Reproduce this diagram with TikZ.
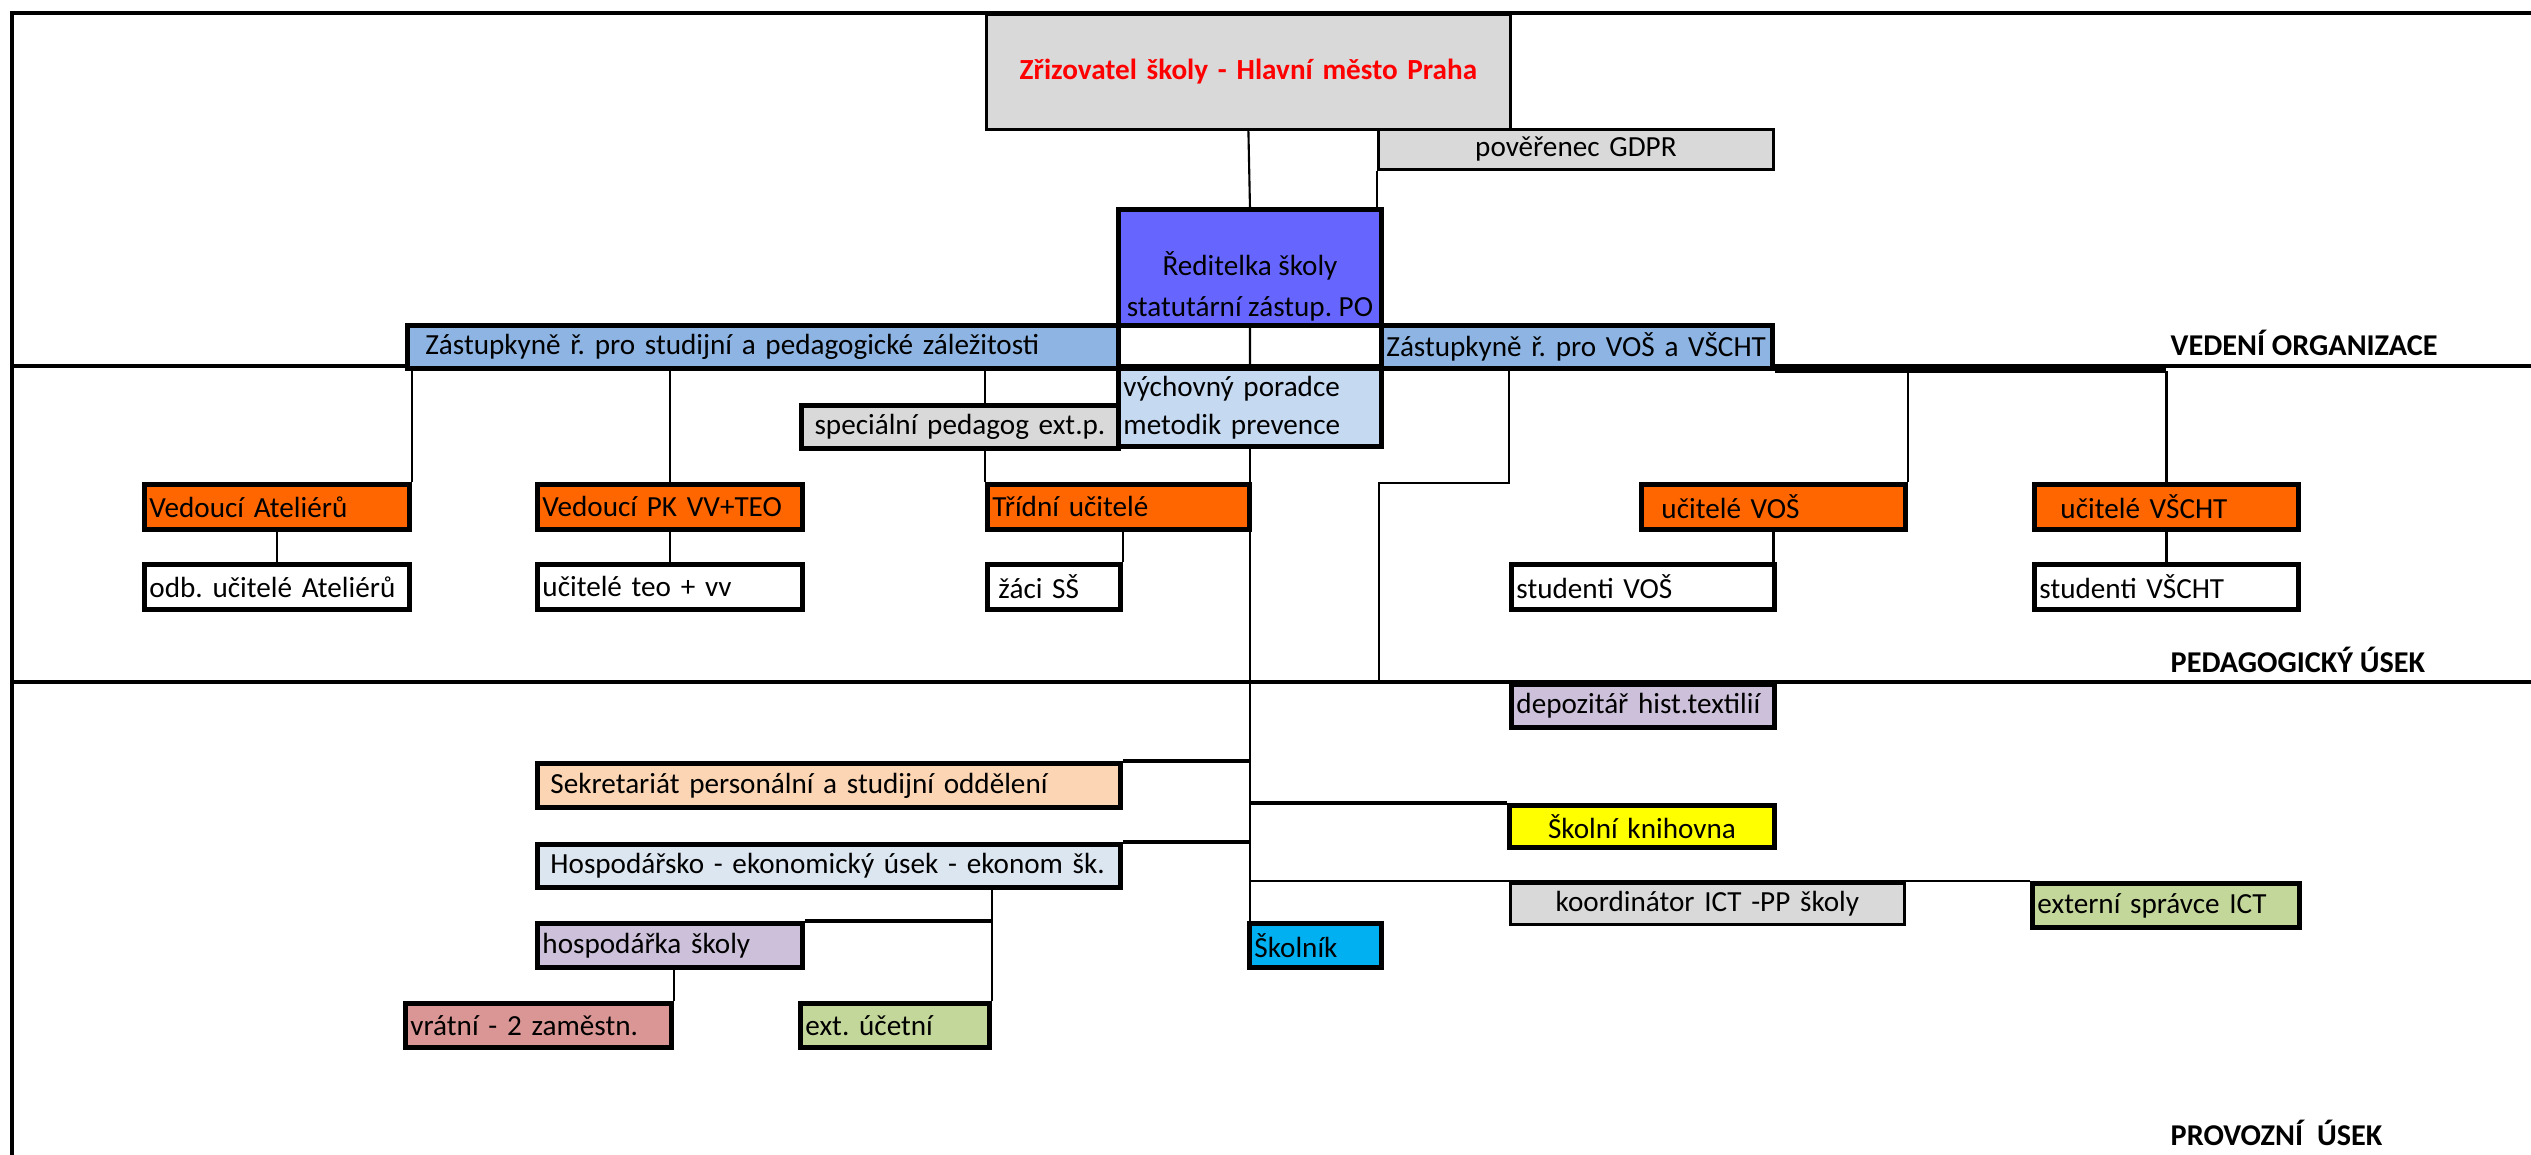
\documentclass[tikz,border=0pt]{standalone}
\usepackage{fontspec}
\setmainfont{Carlito}
\usetikzlibrary{backgrounds, positioning}
\frenchspacing
\definecolor{grayfill}{HTML}{D9D9D9}
\definecolor{director}{HTML}{6666FF}
\definecolor{deputy}{HTML}{8DB4E2}
\definecolor{advisor}{HTML}{C5D9F1}
\definecolor{leader}{HTML}{FF6600}
\definecolor{lilac}{HTML}{CCC0DA}
\definecolor{peach}{HTML}{FCD5B4}
\definecolor{econ}{HTML}{DCE6F1}
\definecolor{library}{HTML}{FFFF00}
\definecolor{extgreen}{HTML}{C4D79B}
\definecolor{rose}{HTML}{DA9694}
\definecolor{janitor}{HTML}{00B0F0}
\newcommand{\lbl}{\fontsize{8.3}{10.8}\selectfont}
\newcommand{\hd}{\fontsize{8.6}{10.8}\selectfont\bfseries}
\tikzstyle{box}=[rectangle, draw=black, line width=1.4pt, anchor=north west, inner xsep=0.05cm, inner ysep=0pt, align=left, font=\lbl]
\tikzstyle{flat}=[box, line width=0.8pt]
\tikzstyle{link}=[line width=0.6pt]
\tikzstyle{bar}=[line width=1.4pt]
\tikzstyle{sect}=[line width=0.9pt]
\tikzstyle{head}=[font=\hd, anchor=west, inner sep=0pt]

\begin{document}
\begin{tikzpicture}
  \useasboundingbox (0,0) rectangle (25.31,-11.54);

  % vedeni organizace
  \node[flat, fill=grayfill, text width=5.14cm, minimum height=1.15cm, align=center, font=\lbl\bfseries, text=red] (zriz) at (9.85,-0.13) {Zřizovatel školy - Hlavní město Praha};
  \node[flat, fill=grayfill, text width=3.85cm, minimum height=0.40cm, align=center] (gdpr) at (13.77,-1.28) {pověřenec GDPR};
  \node[box, fill=director, minimum width=2.63cm, minimum height=1.16cm] (red) at (11.16,-2.07) {};
  \node[font=\lbl, align=center, anchor=south, inner sep=0pt] (redtxt) at ([yshift=0.06cm]red.south) {Ředitelka školy\\[1pt]statutární zástup. PO};
  \node[box, fill=deputy, text width=7.01cm, minimum height=0.43cm] (zast1) at (4.05,-3.23) {\hspace*{0.13cm}Zástupkyně ř. pro studijní a pedagogické záležitosti};
  \node[box, fill=deputy, text width=3.81cm, minimum height=0.43cm] (zast2) at (13.79,-3.23) {\mbox{Zástupkyně ř. pro VOŠ a VŠCHT}};
  \node[head] (vedeni) at (21.70,-3.43) {VEDENÍ ORGANIZACE};

  % pedagogicky usek
  \node[box, fill=advisor, text width=2.53cm, minimum height=0.78cm] (vych) at (11.16,-3.66) {výchovný poradce\\metodik prevence};
  \node[box, fill=grayfill, text width=3.07cm, minimum height=0.43cm, align=center] (spec) at (7.99,-4.03) {speciální pedagog ext.p.};
  \node[box, fill=leader, text width=2.55cm, minimum height=0.45cm] (ved1) at (1.42,-4.82) {Vedoucí Ateliérů};
  \node[box, fill=leader, text width=2.55cm, minimum height=0.45cm] (ved2) at (5.35,-4.82) {Vedoucí PK VV+TEO};
  \node[box, fill=leader, text width=2.52cm, minimum height=0.45cm] (trid) at (9.85,-4.82) {Třídní učitelé};
  \node[box, fill=leader, text width=2.54cm, minimum height=0.45cm] (ucvos) at (16.39,-4.82) {\hspace*{0.15cm}učitelé VOŠ};
  \node[box, fill=leader, text width=2.54cm, minimum height=0.45cm] (ucvscht) at (20.32,-4.82) {\hspace*{0.21cm}učitelé VŠCHT};
  \node[box, fill=white, text width=2.55cm, minimum height=0.45cm] (odb) at (1.42,-5.62) {\mbox{odb. učitelé Ateliérů}};
  \node[box, fill=white, text width=2.55cm, minimum height=0.45cm] (ucteo) at (5.35,-5.62) {učitelé teo + vv};
  \node[box, fill=white, text width=1.23cm, minimum height=0.45cm] (zaci) at (9.85,-5.62) {\hspace*{0.06cm}žáci SŠ};
  \node[box, fill=white, text width=2.53cm, minimum height=0.45cm] (stvos) at (15.09,-5.62) {studenti VOŠ};
  \node[box, fill=white, text width=2.54cm, minimum height=0.45cm] (stvscht) at (20.32,-5.62) {studenti VŠCHT};
  \node[head] (pedag) at (21.70,-6.60) {PEDAGOGICKÝ ÚSEK};

  % provozni usek
  \node[box, fill=lilac, text width=2.53cm, minimum height=0.43cm] (depo) at (15.09,-6.82) {\mbox{depozitář hist.textilií}};
  \node[box, fill=peach, text width=5.73cm, minimum height=0.44cm] (sekr) at (5.35,-7.61) {\hspace*{0.08cm}Sekretariát personální a studijní oddělení};
  \node[box, fill=library, text width=2.55cm, minimum height=0.42cm, align=center] (knih) at (15.07,-8.03) {Školní knihovna};
  \node[box, fill=econ, text width=5.73cm, minimum height=0.43cm] (hosp) at (5.35,-8.42) {\hspace*{0.08cm}Hospodářsko - ekonomický úsek - ekonom šk.};
  \node[flat, fill=grayfill, text width=3.84cm, minimum height=0.41cm, align=center] (koord) at (15.09,-8.82) {koordinátor ICT -PP školy};
  \node[box, fill=extgreen, text width=2.57cm, minimum height=0.44cm] (ext) at (20.30,-8.81) {externí správce ICT};
  \node[box, fill=janitor, text width=1.22cm, minimum height=0.44cm] (skoln) at (12.47,-9.21) {Školník};
  \node[box, fill=lilac, text width=2.55cm, minimum height=0.44cm] (hospka) at (5.35,-9.21) {hospodářka školy};
  \node[box, fill=rose, text width=2.56cm, minimum height=0.44cm] (vratni) at (4.03,-10.01) {vrátní - 2 zaměstn.};
  \node[box, fill=extgreen, text width=1.79cm, minimum height=0.44cm] (extuc) at (7.98,-10.01) {ext. účetní};
  \node[head] (provoz) at (21.70,-11.33) {PROVOZNÍ\hspace{0.14cm}ÚSEK};

  \begin{scope}[on background layer]
    % frame and section lines
    \draw[sect] (0.12,-11.6) -- (0.12,-0.13) -- (25.4,-0.13);
    \draw[sect] (0.12,-3.66) -- (25.4,-3.66);
    \draw[sect] (0.12,-6.82) -- (25.4,-6.82);

    \draw[link] (zriz.south) -- (red.north);
    \draw[link] (gdpr.south west) -- (gdpr.south west |- red.north);
    \draw[link] (red.south) -- (vych.north);
    \draw[link] (vych.south) -- (vych.south |- skoln.north);

    \draw[link] (ved1.north east) -- (ved1.north east |- zast1.south);
    \draw[link] (ved2.north) -- (ved2.north |- zast1.south);
    \draw[link] (trid.north west) -- (trid.north west |- zast1.south);
    \draw[link] (ved1) -- (odb);
    \draw[link] (ved2) -- (ucteo);
    \draw[link] (zaci.north east) -- (zaci.north east |- trid.south);

    \draw[bar] (zast2.south east) -- (ucvscht.north |- zast2.south);
    \draw[link] (ucvos.north east) -- (ucvos.north east |- zast2.south);
    \draw[link] (ucvscht.north) -- (ucvscht.north |- zast2.south);
    \draw[link] (ucvscht) -- (stvscht);
    \draw[link] (ucvos.south) -- (ucvos.south |- stvos.north);
    \coordinate (k1) at (13.79,-4.83);
    \draw[link] (depo.north west |- zast2.south) |- (k1) -- (k1 |- depo.north);
    \draw[bar] (k1 |- depo.north) -- (depo.north west);

    \draw[bar] (sekr.north east) -- (sekr.north east -| vych.south);
    \draw[bar] (hosp.north east) -- (hosp.north east -| vych.south);
    \draw[bar] (knih.north west) -- (knih.north west -| vych.south);
    \draw[link] (ext.north west) -- (ext.north west -| vych.south);
    \draw[link] (extuc.north east) -- (extuc.north east |- hosp.south);
    \draw[link, line width=1pt] (hospka.north east) -- (hospka.north east -| extuc.north east);
    \draw[link] (vratni.north east) -- (vratni.north east |- hospka.south);
  \end{scope}
\end{tikzpicture}
\end{document}
